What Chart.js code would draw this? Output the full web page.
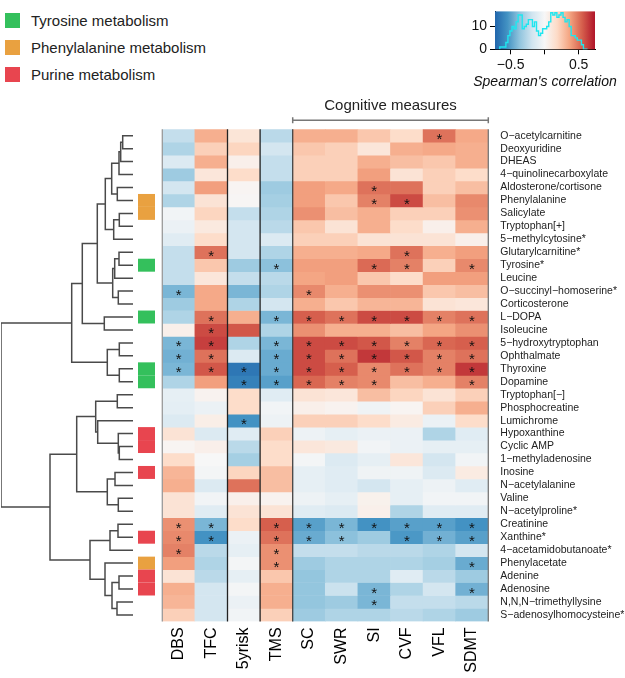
<!DOCTYPE html>
<html>
<head>
<meta charset="utf-8">
<script src="https://cdn.jsdelivr.net/npm/chart.js@4.4.1/dist/chart.umd.min.js"></script>
<style>
  body { margin: 0; background: #fff; width: 625px; height: 678px; position: relative; overflow: hidden;
         font-family: "Liberation Sans", Arial, sans-serif; }
  canvas { position: absolute; }
  #legend { position: absolute; left: 5px; top: 7px; }
  .item { display: flex; align-items: center; height: 27px; font-size: 15px; color: #222; }
  .sw { width: 15px; height: 15px; margin-right: 11px; }
</style>
</head>
<body>
<div id="legend"></div>
<canvas id="dendro" style="left:0;top:0" width="140" height="678"></canvas>
<canvas id="heat" style="left:0;top:0" width="625" height="678"></canvas>
<canvas id="cbar" style="left:440px;top:0" width="185" height="95"></canvas>

<script>
// columns and rows of the heatmap
const measures = ["DBS", "TFC", "5yrisk", "TMS", "SC", "SWR", "SI", "CVF", "VFL", "SDMT"];
const metabolites = [
  "O\u2212acetylcarnitine", "Deoxyuridine", "DHEAS", "4\u2212quinolinecarboxylate", "Aldosterone/cortisone",
  "Phenylalanine", "Salicylate", "Tryptophan[+]", "5\u2212methylcytosine*", "Glutarylcarnitine*",
  "Tyrosine*", "Leucine", "O\u2212succinyl\u2212homoserine*", "Corticosterone", "L\u2212DOPA",
  "Isoleucine", "5\u2212hydroxytryptophan", "Ophthalmate", "Thyroxine", "Dopamine",
  "Tryptophan[\u2212]", "Phosphocreatine", "Lumichrome", "Hypoxanthine", "Cyclic AMP",
  "1\u2212methyladenosine", "Inosine", "N\u2212acetylalanine", "Valine", "N\u2212acetylproline*",
  "Creatinine", "Xanthine*", "4\u2212acetamidobutanoate*", "Phenylacetate", "Adenine",
  "Adenosine", "N,N,N\u2212trimethyllysine", "S\u2212adenosylhomocysteine*"
];

// Spearman's correlation, one row per metabolite, columns as in measures
const corr = [
  [-0.22, 0.33, 0.12, -0.25, 0.33, 0.33, 0.25, 0.17, 0.50, 0.35],
  [-0.28, 0.22, 0.20, -0.17, 0.25, 0.22, 0.11, 0.33, 0.35, 0.33],
  [-0.13, 0.33, 0.05, -0.22, 0.22, 0.22, 0.33, 0.28, 0.25, 0.33],
  [-0.33, 0.11, 0.17, -0.22, 0.22, 0.22, 0.38, 0.13, 0.22, 0.17],
  [-0.17, 0.38, 0.02, -0.33, 0.38, 0.35, 0.50, 0.50, 0.22, 0.28],
  [-0.28, 0.13, 0.01, -0.31, 0.38, 0.25, 0.46, 0.60, 0.28, 0.44],
  [-0.03, 0.20, -0.22, -0.28, 0.42, 0.28, 0.33, 0.22, 0.22, 0.42],
  [-0.06, 0.09, -0.17, -0.25, 0.25, 0.13, 0.33, 0.17, 0.05, 0.33],
  [-0.11, 0.17, -0.17, -0.13, 0.22, 0.22, 0.13, 0.13, 0.13, 0.05],
  [-0.22, 0.50, -0.17, -0.28, 0.33, 0.33, 0.35, 0.50, 0.33, 0.38],
  [-0.22, 0.25, -0.33, -0.38, 0.38, 0.38, 0.52, 0.46, 0.22, 0.44],
  [-0.22, 0.11, -0.22, -0.25, 0.36, 0.38, 0.25, 0.17, 0.38, 0.38],
  [-0.42, 0.35, -0.42, -0.28, 0.44, 0.33, 0.42, 0.42, 0.25, 0.28],
  [-0.33, 0.35, -0.28, -0.17, 0.33, 0.25, 0.31, 0.31, 0.13, 0.11],
  [-0.28, 0.50, 0.33, -0.42, 0.55, 0.50, 0.60, 0.60, 0.46, 0.50],
  [0.05, 0.60, 0.57, -0.28, 0.42, 0.33, 0.33, 0.28, 0.36, 0.42],
  [-0.42, 0.63, -0.28, -0.42, 0.60, 0.60, 0.57, 0.46, 0.53, 0.55],
  [-0.44, 0.50, -0.13, -0.46, 0.60, 0.50, 0.65, 0.57, 0.46, 0.50],
  [-0.42, 0.57, -0.66, -0.46, 0.60, 0.55, 0.44, 0.50, 0.46, 0.65],
  [-0.28, 0.38, -0.62, -0.50, 0.53, 0.46, 0.44, 0.28, 0.33, 0.46],
  [-0.08, 0.03, 0.17, -0.11, 0.13, 0.11, 0.28, 0.20, 0.13, 0.22],
  [-0.09, -0.06, 0.17, -0.03, 0.05, 0.03, -0.04, 0.02, 0.22, 0.33],
  [-0.13, 0.06, -0.55, -0.05, 0.22, 0.22, 0.17, 0.08, -0.06, 0.17],
  [0.13, -0.13, -0.11, 0.22, -0.05, -0.08, -0.06, -0.06, -0.28, -0.11],
  [0.02, 0.05, -0.25, 0.17, 0.11, 0.09, -0.03, -0.06, -0.08, -0.08],
  [0.17, 0.00, -0.31, 0.17, -0.02, -0.13, -0.08, 0.11, -0.17, -0.03],
  [0.31, -0.02, 0.20, 0.28, -0.08, -0.11, -0.04, -0.04, -0.13, 0.08],
  [0.33, -0.13, 0.50, 0.28, -0.08, -0.11, -0.17, -0.08, -0.05, -0.11],
  [0.13, -0.03, 0.05, 0.03, -0.05, -0.08, 0.04, -0.08, -0.03, -0.03],
  [0.13, -0.11, 0.13, 0.13, -0.11, -0.13, 0.05, -0.28, -0.11, -0.11],
  [0.42, -0.42, 0.17, 0.55, -0.50, -0.42, -0.55, -0.50, -0.50, -0.55],
  [0.44, -0.55, -0.06, 0.50, -0.46, -0.38, -0.33, -0.53, -0.44, -0.50],
  [0.46, -0.25, -0.08, 0.42, -0.22, -0.22, -0.25, -0.25, -0.28, -0.17],
  [0.38, -0.28, -0.02, 0.42, -0.33, -0.28, -0.28, -0.28, -0.31, -0.46],
  [0.13, -0.25, -0.08, 0.25, -0.36, -0.28, -0.28, -0.11, -0.25, -0.33],
  [0.33, -0.17, -0.02, 0.33, -0.36, -0.20, -0.42, -0.28, -0.17, -0.44],
  [0.31, -0.17, -0.06, 0.33, -0.36, -0.33, -0.42, -0.22, -0.22, -0.25],
  [0.22, -0.17, -0.03, 0.22, -0.33, -0.28, -0.28, -0.25, -0.28, -0.33]
];

// significant cells [row, column]
const stars = [
  [0, 8], [4, 6], [5, 6], [5, 7], [9, 1], [9, 7], [10, 3], [10, 6], [10, 7], [10, 9],
  [12, 0], [12, 4],
  [14, 1], [14, 3], [14, 4], [14, 5], [14, 6], [14, 7], [14, 8], [14, 9],
  [15, 1],
  [16, 0], [16, 1], [16, 3], [16, 4], [16, 5], [16, 6], [16, 7], [16, 8], [16, 9],
  [17, 0], [17, 1], [17, 3], [17, 4], [17, 5], [17, 6], [17, 7], [17, 8], [17, 9],
  [18, 0], [18, 1], [18, 2], [18, 3], [18, 4], [18, 5], [18, 6], [18, 7], [18, 8], [18, 9],
  [19, 2], [19, 3], [19, 4], [19, 5], [19, 6], [19, 9],
  [22, 2],
  [30, 0], [30, 1], [30, 3], [30, 4], [30, 5], [30, 6], [30, 7], [30, 8], [30, 9],
  [31, 0], [31, 1], [31, 3], [31, 4], [31, 5], [31, 7], [31, 8], [31, 9],
  [32, 0], [32, 3], [33, 3], [33, 9], [35, 6], [35, 9], [36, 6]
];

// pathway annotation: group names, colours, and [row, group] pairs
const groups = ["Tyrosine metabolism", "Phenylalanine metabolism", "Purine metabolism"];
const groupColors = ["#34c05c", "#e9a140", "#e8454f"];
const annot = [
  [5, 1], [6, 1], [10, 0], [14, 0], [18, 0], [19, 0],
  [23, 2], [24, 2], [26, 2], [31, 2], [33, 1], [34, 2], [35, 2]
];

// row dendrogram, hclust style: negative = leaf (row i is -(i+1)), positive = earlier merge
const merges = [
  [-1, -2, 10.3], [1, -3, 12.3], [2, -4, 14], [-5, -6, 15.7], [3, 4, 21.3],
  [-7, -8, 13.7], [6, -9, 19.3], [5, 7, 27.7], [-10, -11, 14], [9, -12, 18.3],
  [-13, -14, 14.7], [10, 11, 20.3], [8, 12, 35.7], [-15, -16, 28.7], [13, 14, 50.7],
  [-17, -18, 13.7], [-19, -20, 13.7], [16, 17, 25.7], [15, 18, 61.3],
  [-21, -22, 15.7], [-25, -26, 13.7], [-24, 21, 14.7], [-23, 22, 35.3], [20, 23, 37.3],
  [-27, -28, 18], [-29, -30, 14.7], [25, 26, 25.7], [24, 27, 56.3],
  [-31, -32, 15], [29, -33, 23], [-35, -36, 14], [-37, -38, 16], [31, 32, 21],
  [-34, 33, 28], [30, 34, 43], [28, 35, 83], [19, 36, 132]
];

// histogram of all correlations (bin left edges and counts) shown in the colour key
const binEdges = [-0.66, -0.63, -0.60, -0.57, -0.54, -0.51, -0.48, -0.45, -0.42, -0.39, -0.36, -0.33,
  -0.30, -0.27, -0.24, -0.21, -0.18, -0.15, -0.12, -0.09, -0.06, -0.03, 0.00, 0.03, 0.06, 0.09,
  0.12, 0.15, 0.18, 0.21, 0.24, 0.27, 0.30, 0.33, 0.36, 0.39, 0.42, 0.45, 0.48, 0.51, 0.54, 0.57, 0.60];
const binCounts = [0, 1, 1, 1, 3, 6, 8, 10, 9, 12, 15, 15, 9, 10, 11, 13, 13, 10, 12, 8, 6, 7,
  9, 9, 10, 12, 16, 15, 16, 14, 15, 16, 14, 12, 13, 10, 6, 6, 5, 4, 4, 2, 0];

const keyTicks = [-0.5, 0, 0.5];
const countTicks = [0, 5, 10, 15];

const FONT = '"Liberation Sans", Arial, sans-serif';
const palette = ["#2166ac", "#4393c3", "#92c5de", "#d1e5f0", "#f7f7f7", "#fddbc7", "#f4a582", "#d6604d", "#b2182b"];
const cmin = -0.73, cmax = 0.73;

function hex2rgb(h) {
  return [parseInt(h.slice(1, 3), 16), parseInt(h.slice(3, 5), 16), parseInt(h.slice(5, 7), 16)];
}
function rdbu(v) {
  let t = (v - cmin) / (cmax - cmin) * (palette.length - 1);
  t = Math.max(0, Math.min(palette.length - 1, t));
  const i = Math.min(palette.length - 2, Math.floor(t));
  const f = t - i;
  const a = hex2rgb(palette[i]), b = hex2rgb(palette[i + 1]);
  const c = a.map((x, k) => Math.round(x + (b[k] - x) * f));
  return `rgb(${c[0]},${c[1]},${c[2]})`;
}

// legend
const legend = document.getElementById("legend");
groups.forEach((g, i) => {
  const d = document.createElement("div");
  d.className = "item";
  d.innerHTML = `<div class="sw" style="background:${groupColors[i]}"></div>${g}`;
  legend.appendChild(d);
});

// ---- heatmap ----
const heatDecor = {
  id: "heatDecor",
  afterDatasetsDraw(chart) {
    const { ctx, chartArea: a, scales: { x, y } } = chart;
    const edge = c => c === 0 ? a.left : c === measures.length ? a.right
      : (x.getPixelForValue(c - 1) + x.getPixelForValue(c)) / 2;
    ctx.save();
    // separators
    ctx.lineWidth = 1.3;
    [[0, "#999"], [2, "#222"], [3, "#222"], [4, "#444"], [10, "#777"]].forEach(([c, col]) => {
      ctx.strokeStyle = col;
      ctx.beginPath();
      ctx.moveTo(edge(c), a.top);
      ctx.lineTo(edge(c), a.bottom);
      ctx.stroke();
    });
    // stars
    ctx.fillStyle = "#111";
    ctx.font = "15px " + FONT;
    ctx.textAlign = "center";
    ctx.textBaseline = "alphabetic";
    stars.forEach(([r, c]) => {
      ctx.fillText("*", x.getPixelForValue(c), y.getPixelForValue(r) + 8.5);
    });
    // pathway boxes
    annot.forEach(([r, g]) => {
      ctx.fillStyle = groupColors[g];
      const y0 = y.getPixelForValue(r - 0.5), y1 = y.getPixelForValue(r + 0.5);
      ctx.fillRect(138, y0, 17, y1 - y0);
    });
    // cognitive measures bracket
    const bx0 = edge(4), bx1 = edge(10), by = a.top - 9;
    ctx.strokeStyle = "#777";
    ctx.lineWidth = 1.5;
    ctx.beginPath();
    ctx.moveTo(bx0, by - 3); ctx.lineTo(bx0, by + 3);
    ctx.moveTo(bx0, by); ctx.lineTo(bx1, by);
    ctx.moveTo(bx1, by - 3); ctx.lineTo(bx1, by + 3);
    ctx.stroke();
    ctx.fillStyle = "#222";
    ctx.font = "15px " + FONT;
    ctx.textBaseline = "alphabetic";
    ctx.fillText("Cognitive measures", (bx0 + bx1) / 2, by - 10);
    ctx.restore();
  }
};

new Chart(document.getElementById("heat"), {
  type: "bar",
  data: {
    labels: measures,
    datasets: metabolites.map((m, r) => ({
      label: m,
      data: measures.map(() => [r - 0.5, r + 0.5]),
      backgroundColor: corr[r].map(rdbu),
      borderWidth: 0,
      grouped: false,
      barPercentage: 1,
      categoryPercentage: 1
    }))
  },
  options: {
    responsive: false,
    animation: false,
    layout: { padding: { left: 162.3, top: 129.2, right: 0, bottom: 0 } },
    plugins: { legend: { display: false }, tooltip: { enabled: false } },
    scales: {
      x: {
        grid: { display: false, drawTicks: false },
        border: { display: false },
        ticks: { minRotation: 90, maxRotation: 90, autoSkip: false, padding: 6, color: "#000",
                 font: { size: 16, family: FONT } },
        afterFit: s => { s.height = 56.6; }
      },
      y: {
        type: "linear",
        position: "right",
        reverse: true,
        min: -0.5,
        max: 37.5,
        grid: { display: false, drawTicks: false },
        border: { display: false },
        afterBuildTicks: s => { s.ticks = metabolites.map((m, i) => ({ value: i })); },
        ticks: { autoSkip: false, padding: 12, color: "#222", font: { size: 10.5, family: FONT },
                 callback: v => metabolites[v] },
        afterFit: s => { s.width = 136.7; }
      }
    }
  },
  plugins: [heatDecor]
});

// ---- dendrogram ----
function dendroSegments() {
  const pos = []; // [height, y] of each merge
  const at = k => k < 0 ? [0, -k - 1] : pos[k - 1];
  const segs = [];
  merges.forEach(([a, b, h]) => {
    const pa = at(a), pb = at(b);
    segs.push([{ x: pa[0], y: pa[1] }, { x: h, y: pa[1] }, { x: h, y: pb[1] }, { x: pb[0], y: pb[1] }]);
    pos.push([h, (pa[1] + pb[1]) / 2]);
  });
  return segs;
}

new Chart(document.getElementById("dendro"), {
  type: "scatter",
  data: {
    datasets: dendroSegments().map(s => ({
      data: s, showLine: true, borderColor: "#4a4a4a", borderWidth: 1.5, pointRadius: 0
    }))
  },
  options: {
    responsive: false,
    animation: false,
    layout: { padding: { left: 1, right: 7, top: 129.2, bottom: 56.6 } },
    plugins: { legend: { display: false }, tooltip: { enabled: false } },
    scales: {
      x: { type: "linear", reverse: true, min: 0, max: 132, display: false },
      y: { type: "linear", reverse: true, min: -0.5, max: 37.5, display: false }
    }
  }
});

// ---- colour key with histogram ----
const keyGradient = {
  id: "keyGradient",
  beforeDatasetsDraw(chart) {
    const { ctx, chartArea: a, scales: { x } } = chart;
    const g = ctx.createLinearGradient(a.left, 0, a.right, 0);
    palette.forEach((col, i) => {
      const v = cmin + (cmax - cmin) * i / (palette.length - 1);
      const off = (x.getPixelForValue(v) - a.left) / (a.right - a.left);
      g.addColorStop(Math.max(0, Math.min(1, off)), col);
    });
    ctx.save();
    ctx.fillStyle = g;
    ctx.fillRect(a.left, a.top, a.right - a.left, a.bottom - a.top);
    ctx.restore();
  },
  afterDraw(chart) {
    // axis title drawn here so it is not squeezed to the plot width
    const { ctx, chartArea: a } = chart;
    ctx.save();
    ctx.fillStyle = "#111";
    ctx.font = "italic 14px " + FONT;
    ctx.textAlign = "center";
    ctx.textBaseline = "middle";
    ctx.fillText("Spearman's correlation", (a.left + a.right) / 2, a.bottom + 33);
    ctx.restore();
  }
};

const histPts = binEdges.map((e, i) => ({ x: e, y: binCounts[i] }));
histPts.push({ x: 0.63, y: 0 });

new Chart(document.getElementById("cbar"), {
  type: "scatter",
  data: {
    datasets: [{
      data: histPts, showLine: true, stepped: "after", borderColor: "#1ee6ef", borderWidth: 1.4, pointRadius: 0
    }]
  },
  options: {
    responsive: false,
    animation: false,
    layout: { padding: { left: 0, right: 30, top: 1, bottom: 0 } },
    plugins: { legend: { display: false }, tooltip: { enabled: false } },
    scales: {
      x: {
        type: "linear", min: -0.73, max: 0.74,
        afterBuildTicks: s => { s.ticks = keyTicks.map(v => ({ value: v })); },
        grid: { drawOnChartArea: false, drawTicks: true, tickLength: 5, color: "#000" },
        border: { display: true, color: "#000" },
        ticks: { padding: 2, color: "#111", font: { size: 14, family: FONT },
                 callback: v => v === 0 ? "" : (v < 0 ? "\u2212" + Math.abs(v) : String(v)) },
        afterFit: s => { s.height = 45.7; }
      },
      y: {
        type: "linear", min: 0, max: 16.6,
        afterBuildTicks: s => { s.ticks = countTicks.map(v => ({ value: v })); },
        grid: { drawOnChartArea: false, drawTicks: true, tickLength: 5, color: "#000" },
        border: { display: true, color: "#000" },
        ticks: { padding: 3, color: "#111", font: { size: 14, family: FONT },
                 callback: v => (v === 0 || v === 10) ? String(v) : "" },
        afterFit: s => { s.width = 55; }
      }
    }
  },
  plugins: [keyGradient]
});
</script>
</body>
</html>
